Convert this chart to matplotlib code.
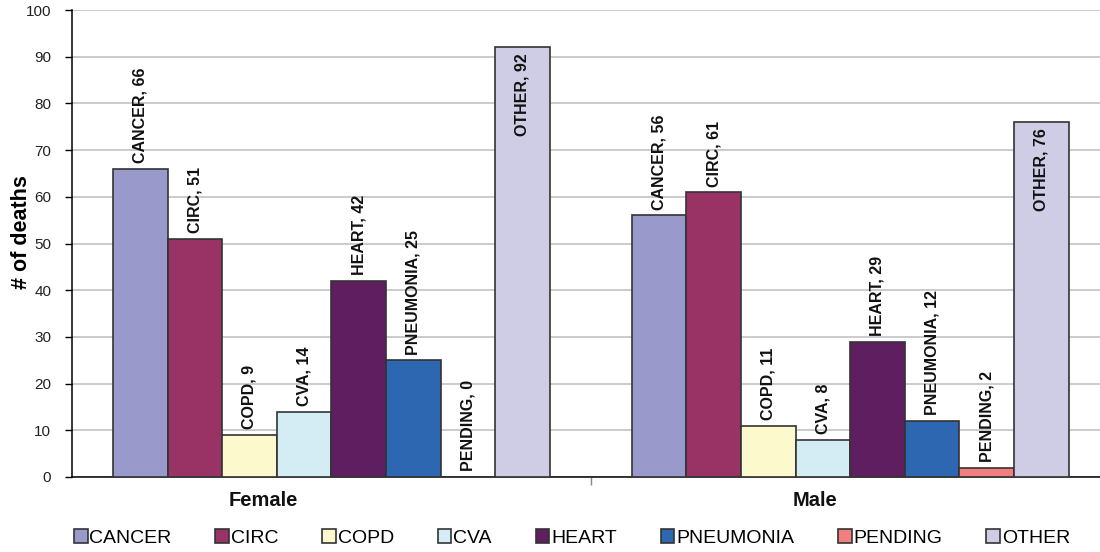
import matplotlib
matplotlib.use("Agg")
import matplotlib.pyplot as plt
import matplotlib.transforms as mtransforms
import numpy as np

plt.rcParams['font.family'] = ['Liberation Sans', 'DejaVu Sans']

# Data
groups = ["Female", "Male"]
causes = ["CANCER", "CIRC", "COPD", "CVA", "HEART", "PNEUMONIA", "PENDING", "OTHER"]
female = [66, 51, 9, 14, 42, 25, 0, 92]
male = [56, 61, 11, 8, 29, 12, 2, 76]
yticks = list(range(0, 101, 10))

# Styling
colors = ["#9999CC", "#993366", "#FCF9CD", "#D4EDF4", "#5F1E60", "#2D66B1", "#F17F7F", "#CECDE5"]
inside_label = {"OTHER"}
group_label_shift_px = [-68, -35]

values = np.array([female, male])  # shape (groups, causes)

fig = plt.figure(figsize=(11, 5.52), dpi=100)
W, H = 1100, 552
ax_left, ax_right, ax_top, ax_bottom = 72, 1109.5, 10, 477
ax = fig.add_axes([ax_left / W, (H - ax_bottom) / H,
                   (ax_right - ax_left) / W, (ax_bottom - ax_top) / H])

n = len(causes)
bw = 1.0 / (n + 1.5)
x = np.arange(len(groups))

for i, cause in enumerate(causes):
    offs = (i - (n - 1) / 2) * bw
    bars = ax.bar(x + offs, values[:, i], width=bw, color=colors[i],
                  edgecolor="#333333", linewidth=1.2, label=cause, zorder=3)
    for b, v in zip(bars, values[:, i]):
        cx = b.get_x() + b.get_width() / 2
        if cause in inside_label:
            ax.annotate(f"{cause}, {v}", (cx, v), xytext=(0, -4),
                        textcoords="offset points", rotation=90,
                        ha="center", va="top", fontsize=11.5,
                        fontweight="bold", color="#111111", zorder=4)
        else:
            ax.annotate(f"{cause}, {v}", (cx, v), xytext=(0, 4),
                        textcoords="offset points", rotation=90,
                        ha="center", va="bottom", fontsize=11.5,
                        fontweight="bold", color="#111111", zorder=4)

ax.set_xlim(-0.5, 1.5)
ax.set_ylim(0, 100)
ax.set_yticks(yticks)
ax.yaxis.grid(True, color="#BDBDBD", linewidth=1.1, zorder=0)
ax.set_axisbelow(True)

ax.tick_params(axis="y", direction="out", length=5, width=1, pad=10,
               labelsize=11, labelcolor="#222222")

# group names under the category axis
ax.set_xticks([])
ax.set_xticks([0.5], minor=True)
ax.tick_params(axis="x", which="minor", direction="out", length=6, width=1,
               color="#888888", labelbottom=False)
blend = mtransforms.blended_transform_factory(ax.transData, ax.transAxes)
for gx, name, shift in zip(x, groups, group_label_shift_px):
    tr = blend + mtransforms.ScaledTranslation(shift / 100, 0, fig.dpi_scale_trans)
    ax.text(gx, -0.05, name, transform=tr, ha="center", va="center",
            fontsize=14.5, fontweight="bold", color="#111111")

for s in ["top", "right"]:
    ax.spines[s].set_visible(False)
ax.spines["left"].set_color("#000000")
ax.spines["bottom"].set_color("#000000")
ax.spines["left"].set_linewidth(1.1)
ax.spines["bottom"].set_linewidth(1.1)

ax.set_ylabel("# of deaths", fontsize=15.5, fontweight="bold")
ax.yaxis.set_label_coords(-0.039, 0.525)

leg = fig.legend(loc="center", bbox_to_anchor=(572 / W, 1 - 538 / H),
                 ncol=n, frameon=False, fontsize=14, handlelength=0.7,
                 handleheight=0.7, handletextpad=0.1, columnspacing=2.25,
                 borderaxespad=0)

fig.savefig("out.png", dpi=100)
